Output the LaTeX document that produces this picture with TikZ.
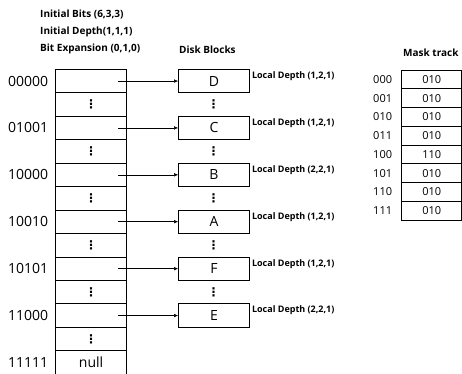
\documentclass[tikz,border=0pt]{standalone}
\usepackage{fontspec}
\setmainfont{Open Sans}
\newfontfamily\dv{DejaVu Sans}
\usetikzlibrary{arrows.meta}
\begin{document}
\begin{tikzpicture}[x=1pt,y=-1pt,
 cell/.style={draw, line width=0.7pt, minimum width=71pt, minimum height=23.45pt, inner sep=0pt, font=\fontsize{14}{14}\selectfont},
 blk/.style={draw, line width=0.7pt, minimum width=71pt, minimum height=23.45pt, inner sep=0pt, font=\fontsize{14}{14}\selectfont},
 vdot/.style={inner sep=0pt, font=\dv\fontsize{12}{12}\bfseries\selectfont},
 key/.style={anchor=east, inner sep=0pt, font=\fontsize{14}{14}\selectfont},
 ld/.style={anchor=north west, inner sep=0pt, font=\fontsize{9}{9}\bfseries\selectfont},
 hdr/.style={anchor=west, inner sep=0pt, font=\fontsize{10}{10}\bfseries\selectfont},
 mcell/.style={draw, line width=0.7pt, minimum width=60pt, minimum height=18.75pt, inner sep=0pt, font=\fontsize{11}{11}\selectfont},
 mkey/.style={anchor=west, inner sep=0pt, font=\fontsize{11}{11}\selectfont},
 conn/.style={-{Latex[length=4pt,width=3.5pt]}, line width=0.5pt}
]
\useasboundingbox (0,0) rectangle (462,373);
% headers
\node[hdr] (h1) at (40,14) {Initial Bits (6,3,3)};
\node[hdr] (h2) at (40,32) {Initial Depth(1,1,1)};
\node[hdr] (h3) at (40,49) {Bit Expansion (0,1,0)};
\node[hdr] (h4) at (179,50) {Disk Blocks};
\node[hdr] (h5) at (403,53) {Mask track};
% directory
\foreach \i in {0,...,12} {
  \pgfmathsetmacro{\yy}{69.3+23.45*(\i+0.5)}
  \ifodd\i
    \node[cell] (d\i) at (91.1,\yy) {};
    \node[vdot] (v\i) at (d\i.center) {⋮};
  \else
    \node[cell] (d\i) at (91.1,\yy) {};
  \fi
}
\node[font=\fontsize{14}{14}\selectfont, inner sep=0pt] (null) at (d12.center) {null};
\foreach \i/\k in {0/00000,2/01001,4/10000,6/10010,8/10101,10/11000,12/11111}
  \node[key] (k\i) at ([xshift=-7pt]d\i.west) {\k};
% blocks
\foreach \i/\b/\l in {0/D/{(1,2,1)},2/C/{(1,2,1)},4/B/{(2,2,1)},6/A/{(1,2,1)},8/F/{(1,2,1)},10/E/{(2,2,1)}} {
  \pgfmathsetmacro{\yy}{69.3+23.45*(\i+0.5)}
  \node[blk] (b\i) at (214,\yy) {\b};
  \node[ld] (l\i) at ([xshift=2pt,yshift=-2.5pt]b\i.north east) {Local Depth \l};
  \coordinate (s\i) at (118.3,\yy);
  \draw[conn] (s\i) -- (b\i.west);
}
\foreach \i in {1,3,5,7,9} {
  \pgfmathsetmacro{\yy}{69.3+23.45*(\i+0.5)}
  \node[vdot] (bv\i) at (213.5,\yy) {⋮};
}
% mask track
\foreach \i/\k/\v in {0/000/010,1/001/010,2/010/010,3/011/010,4/100/110,5/101/010,6/110/010,7/111/010} {
  \pgfmathsetmacro{\yy}{70+18.75*(\i+0.5)}
  \node[mcell] (m\i) at (431.7,\yy) {\v};
  \node[mkey] (mk\i) at (373,\yy) {\k};
}
\end{tikzpicture}
\end{document}
